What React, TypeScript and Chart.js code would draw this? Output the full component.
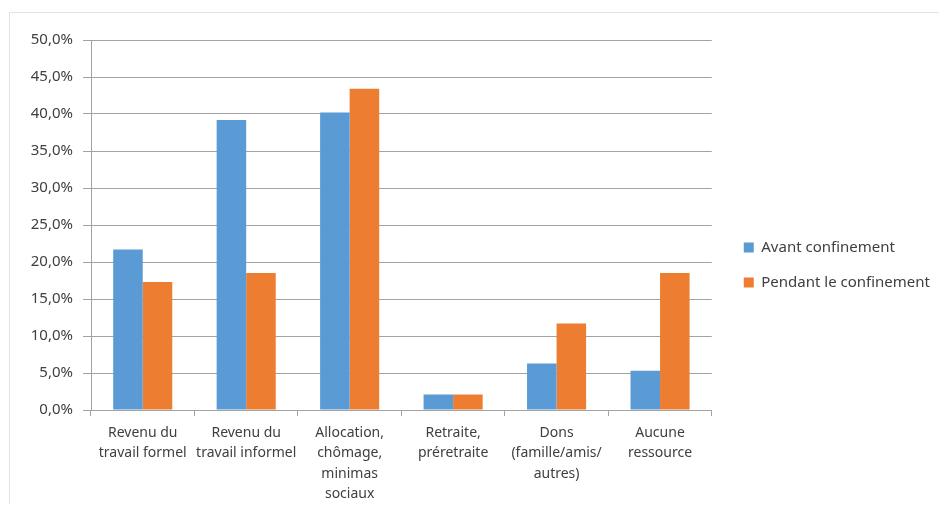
import React, { useEffect, useRef } from "react";
import { Chart, registerables } from "chart.js";

Chart.register(...registerables);

const categories: string[][] = [
  ["Revenu du", "travail formel"],
  ["Revenu du", "travail informel"],
  ["Allocation,", "chômage,", "minimas", "sociaux"],
  ["Retraite,", "préretraite"],
  ["Dons", "(famille/amis/", "autres)"],
  ["Aucune", "ressource"],
];
const avantConfinement = [21.7, 39.2, 40.2, 2.1, 6.3, 5.3];
const pendantConfinement = [17.3, 18.5, 43.4, 2.1, 11.7, 18.5];
const seriesNames = ["Avant confinement", "Pendant le confinement"];

const FONT = "'Noto Sans', 'Open Sans', sans-serif";
const GRID = "#a3a3a3";
const TEXT = "#404040";

const legendGap = {
  id: "legendGap",
  afterLayout(chart: any) {
    const lg = chart.legend;
    if (!lg) return;
    const w = lg.width;
    lg.left = chart.chartArea.right + 12;
    lg.right = lg.left + w;
    lg.top -= 7;
    lg.bottom -= 7;
  },
};

export default function App() {
  const ref = useRef<HTMLCanvasElement | null>(null);
  useEffect(() => {
    if (!ref.current) return;
    const chart = new Chart(ref.current, {
      type: "bar",
      data: {
        labels: categories,
        datasets: [
          {
            label: seriesNames[0],
            data: avantConfinement,
            backgroundColor: "#5B9BD5",
            borderWidth: 0,
            categoryPercentage: 0.571,
            barPercentage: 1,
          },
          {
            label: seriesNames[1],
            data: pendantConfinement,
            backgroundColor: "#ED7D31",
            borderWidth: 0,
            categoryPercentage: 0.571,
            barPercentage: 1,
          },
        ],
      },
      plugins: [legendGap],
      options: {
        animation: false,
        responsive: false,
        devicePixelRatio: 1,
        layout: { padding: { top: 32, left: 8, right: 19, bottom: 0 } },
        plugins: {
          tooltip: { enabled: false },
          legend: {
            position: "right",
            align: "center",
            labels: {
              boxWidth: 10,
              boxHeight: 10,
              padding: 20,
              color: TEXT,
              font: { family: FONT, size: 15 },
            },
          },
        },
        scales: {
          x: {
            grid: {
              display: true,
              drawOnChartArea: false,
              drawTicks: true,
              tickLength: 6,
              color: GRID,
              offset: true,
            },
            border: { display: true, color: GRID, width: 1 },
            ticks: {
              color: TEXT,
              padding: 7,
              maxRotation: 0,
              autoSkip: false,
              font: { family: FONT, size: 14, lineHeight: 1.45 },
            },
            afterFit: (s: any) => {
              s.height = 94;
            },
          },
          y: {
            min: 0,
            max: 50,
            grid: { color: GRID, tickLength: 8, lineWidth: 1 },
            border: { display: true, color: GRID, width: 1 },
            ticks: {
              stepSize: 5,
              color: TEXT,
              padding: 10,
              font: { family: FONT, size: 15 },
              callback: (v: any) => Number(v).toFixed(1).replace(".", ",") + "%",
            },
            afterFit: (s: any) => {
              s.width = 75;
            },
          },
        },
      },
    });
    return () => chart.destroy();
  }, []);

  return (
    <div style={{ position: "relative", width: 939, height: 496 }}>
      <div
        style={{
          position: "absolute",
          left: 1,
          top: 4,
          right: 0,
          bottom: 0,
          borderTop: "1px solid #e2e2e2",
          borderLeft: "1px solid #e2e2e2",
        }}
      />
      <canvas
        ref={ref}
        width={939}
        height={496}
        style={{ position: "absolute", left: 0, top: 0, width: 939, height: 496 }}
      />
    </div>
  );
}
